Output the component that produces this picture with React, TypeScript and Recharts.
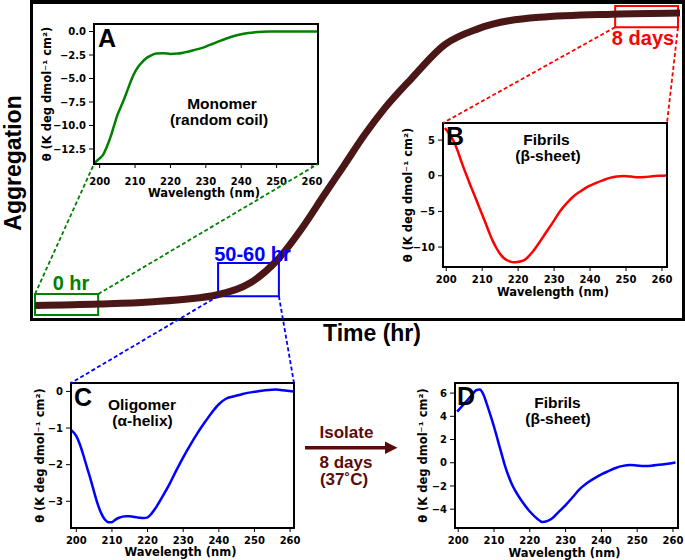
import { LineChart, Line, XAxis, YAxis, ReferenceArea } from "recharts";

// main aggregation curve (time in hours, aggregation in %)
const TIME_HR = [0, 19, 34, 54, 64, 72, 80, 86, 92, 98, 104, 112, 122, 132, 150, 172, 192];
const AGGREGATION = [0, 0.5, 1.2, 3.6, 7.7, 15.5, 27.5, 38, 48.3, 58.7, 67.9, 78.2, 90, 95.5, 99.4, 100.5, 100.9];

// CD spectra (wavelength nm, theta)
const A_NM = [198.5, 200, 201, 202, 203, 204, 205, 206, 207, 208, 209, 210, 211, 212, 213, 214, 215, 216, 218, 220, 222, 224, 226, 228, 230, 232, 234, 236, 238, 240, 242, 244, 246, 248, 250, 255, 261.5];
const A_THETA = [-14.0, -13.5, -13.1, -12.3, -11.3, -10.1, -8.9, -8.0, -7.1, -6.1, -5.1, -4.3, -3.7, -3.25, -2.9, -2.65, -2.45, -2.35, -2.3, -2.38, -2.35, -2.22, -2.05, -1.85, -1.6, -1.3, -1.0, -0.72, -0.47, -0.3, -0.16, -0.07, -0.02, 0, 0, 0, 0];

const B_NM = [199.6, 200.1, 201.1, 202.1, 203.1, 204, 205, 206, 207, 208, 209, 209.95, 210.9, 211.9, 212.9, 213.9, 214.9, 215.9, 216.9, 217.8, 218.8, 219.8, 220.8, 221.8, 223.8, 225.7, 227.7, 229.7, 231.6, 233.6, 235.6, 237.6, 239.5, 241.5, 243.5, 245.5, 247.4, 249.4, 251.4, 253.4, 255.3, 257.3, 259.3, 261.3];
const B_THETA = [6.7, 6.4, 5.7, 4.8, 3.6, 2.3, 0.9, -0.4, -1.7, -2.9, -4.2, -5.4, -6.6, -7.9, -9.1, -10.1, -10.9, -11.5, -11.85, -12.05, -12.15, -12.1, -12.0, -11.8, -10.8, -9.5, -8.0, -6.5, -5.0, -3.8, -2.8, -2.1, -1.5, -1.05, -0.65, -0.3, -0.1, -0.05, -0.12, -0.22, -0.18, -0.07, 0, 0.05];

const C_NM = [198.5, 200, 201, 202, 203, 204, 205, 206, 207, 208, 209, 210, 211, 212, 213, 214, 215, 216, 217, 218, 219, 220, 221, 222, 224, 226, 228, 230, 232, 234, 236, 238, 240, 242, 244, 246, 248, 250, 252, 254, 256, 258, 261];
const C_THETA = [-1.05, -1.22, -1.45, -1.75, -2.08, -2.4, -2.75, -3.08, -3.33, -3.5, -3.57, -3.57, -3.5, -3.45, -3.42, -3.41, -3.41, -3.42, -3.44, -3.45, -3.46, -3.44, -3.35, -3.22, -2.9, -2.56, -2.17, -1.8, -1.46, -1.14, -0.85, -0.58, -0.35, -0.2, -0.14, -0.09, -0.04, -0.01, 0.02, 0.04, 0.05, 0.03, 0];

const D_NM = [199.7, 201, 202, 203, 204, 205, 206, 207, 208, 209, 210, 211, 212, 213, 214, 215, 216, 217, 218, 220, 222, 223.5, 225, 226, 228, 230, 232, 234, 236, 238, 240, 242, 244, 246, 248, 250, 252, 254, 256, 258, 260.7];
const D_THETA = [4.4, 4.85, 5.2, 5.55, 5.9, 6.25, 6.3, 5.9, 5.05, 4.1, 3.1, 2.0, 0.9, -0.2, -1.1, -1.85, -2.45, -2.95, -3.4, -4.2, -4.8, -5.1, -5.0, -4.85, -4.25, -3.65, -2.95, -2.25, -1.75, -1.35, -1.0, -0.72, -0.45, -0.27, -0.2, -0.24, -0.27, -0.25, -0.18, -0.1, 0.03];

const WAVE_TICKS = [200, 210, 220, 230, 240, 250, 260];
const A_TICKS = [0, -2.5, -5, -7.5, -10, -12.5];
const B_TICKS = [5, 0, -5, -10];
const C_TICKS = [0, -1, -2, -3];
const D_TICKS = [6, 4, 2, 0, -2, -4];

// main plot geometry
const MAIN = { left: 35, top: 4, width: 645, height: 313, t: [0, 192], v: [-4, 104] };
const px = (t: number) => MAIN.left + ((t - MAIN.t[0]) / (MAIN.t[1] - MAIN.t[0])) * MAIN.width;
const py = (v: number) => MAIN.top + ((MAIN.v[1] - v) / (MAIN.v[1] - MAIN.v[0])) * MAIN.height;

const BOX_START = { t: [0, 18.8], v: [-3.3, 3.9] };
const BOX_OLIGO = { t: [54.5, 72.6], v: [3.2, 14.6] };
const BOX_FIBRIL = { t: [172.7, 191.4], v: [96, 103.3] };

type Rect = { left: number; top: number; width: number; height: number };
const A_RECT: Rect = { left: 94, top: 24, width: 224, height: 140 };
const B_RECT: Rect = { left: 443, top: 123, width: 224, height: 144 };
const C_RECT: Rect = { left: 71, top: 383, width: 223, height: 145 };
const D_RECT: Rect = { left: 455, top: 383, width: 223, height: 145 };

const AX_FONT = "DejaVu Sans, sans-serif";
const TXT_FONT = "Liberation Sans, Arial, sans-serif";
const MAROON = "#4b1616";
const ARROW = "#5a0b0b";

const fmt = (dec: number) => (v: number) =>
  v < 0 ? "\u2212" + Math.abs(v).toFixed(dec) : v.toFixed(dec);

const Y_W = 50;
const X_H = 40;
const R_PAD = 16;

interface InsetProps {
  rect: Rect;
  nm: number[];
  theta: number[];
  color: string;
  xDomain: [number, number];
  yDomain: [number, number];
  yTicks: number[];
  dec: number;
  xGap: number;
}

function Inset({ rect, nm, theta, color, xDomain, yDomain, yTicks, dec, xGap }: InsetProps) {
  const data = nm.map((w, i) => ({ w, theta: theta[i] }));
  const W = rect.width + Y_W + R_PAD;
  const H = rect.height + X_H;
  const tick = { fontSize: 10, fontWeight: "bold", fill: "#000", fontFamily: AX_FONT };
  return (
    <div style={{ position: "absolute", left: rect.left - Y_W, top: rect.top, width: W, height: H }}>
      <LineChart width={W} height={H} data={data} margin={{ top: 0, right: R_PAD, bottom: 0, left: 0 }}>
        <XAxis
          dataKey="w"
          type="number"
          domain={xDomain}
          ticks={WAVE_TICKS}
          interval={0}
          allowDataOverflow
          axisLine={false}
          tickLine={{ stroke: "#000", strokeWidth: 1 }}
          tickSize={4}
          tickMargin={xGap}
          height={X_H}
          tick={tick}
        />
        <YAxis
          type="number"
          domain={yDomain}
          ticks={yTicks}
          interval={0}
          allowDataOverflow
          axisLine={false}
          tickLine={{ stroke: "#000", strokeWidth: 1 }}
          tickSize={5}
          tickMargin={3}
          width={Y_W}
          tick={tick}
          tickFormatter={fmt(dec)}
        />
        <Line type="monotone" dataKey="theta" stroke={color} strokeWidth={2.5} dot={false} isAnimationActive={false} />
      </LineChart>
      <div
        style={{
          position: "absolute",
          left: Y_W - 1,
          top: -1,
          width: rect.width + 2,
          height: rect.height + 2,
          border: "2px solid #000",
          boxSizing: "border-box",
        }}
      />
    </div>
  );
}

function Connector({ x1, y1, x2, y2, color }: { x1: number; y1: number; x2: number; y2: number; color: string }) {
  return <line x1={x1} y1={y1} x2={x2} y2={y2} stroke={color} strokeWidth={1.8} strokeDasharray="4 2.5" />;
}

export default function App() {
  const mainData = TIME_HR.map((t, i) => ({ t, agg: AGGREGATION[i] }));
  const bold = { fontFamily: TXT_FONT, fontWeight: "bold" as const };

  return (
    <div style={{ position: "absolute", left: 0, top: 0, width: 685, height: 560, background: "#fff", overflow: "hidden" }}>
      <div
        style={{
          position: "absolute",
          left: 30,
          top: 0,
          width: 655,
          height: 321,
          border: "3px solid #000",
          borderTopWidth: 4,
          boxSizing: "border-box",
        }}
      />
      <div style={{ position: "absolute", left: 0, top: 0 }}>
        <LineChart
          width={685}
          height={330}
          data={mainData}
          margin={{ top: MAIN.top, left: MAIN.left, right: 685 - MAIN.left - MAIN.width, bottom: 330 - MAIN.top - MAIN.height }}
        >
          <XAxis dataKey="t" type="number" domain={MAIN.t} hide allowDataOverflow />
          <YAxis type="number" domain={MAIN.v} hide allowDataOverflow />
          <Line type="monotone" dataKey="agg" stroke={MAROON} strokeWidth={7} dot={false} isAnimationActive={false} />
          <ReferenceArea x1={BOX_START.t[0]} x2={BOX_START.t[1]} y1={BOX_START.v[0]} y2={BOX_START.v[1]} fill="none" fillOpacity={0} stroke="green" strokeWidth={2} ifOverflow="visible" />
          <ReferenceArea x1={BOX_OLIGO.t[0]} x2={BOX_OLIGO.t[1]} y1={BOX_OLIGO.v[0]} y2={BOX_OLIGO.v[1]} fill="none" fillOpacity={0} stroke="#0000ff" strokeWidth={2} ifOverflow="visible" />
          <ReferenceArea x1={BOX_FIBRIL.t[0]} x2={BOX_FIBRIL.t[1]} y1={BOX_FIBRIL.v[0]} y2={BOX_FIBRIL.v[1]} fill="none" fillOpacity={0} stroke="#ff0000" strokeWidth={2} ifOverflow="visible" />
        </LineChart>
      </div>

      <Inset rect={A_RECT} nm={A_NM} theta={A_THETA} color="green" xDomain={[198.4, 261.7]} yDomain={[-14.1, 0.8]} yTicks={A_TICKS} dec={1} xGap={10} />
      <Inset rect={B_RECT} nm={B_NM} theta={B_THETA} color="#ff0000" xDomain={[199.1, 261.4]} yDomain={[-12.8, 7.4]} yTicks={B_TICKS} dec={0} xGap={4.5} />
      <Inset rect={C_RECT} nm={C_NM} theta={C_THETA} color="#0000ff" xDomain={[198.5, 261.1]} yDomain={[-3.73, 0.23]} yTicks={C_TICKS} dec={0} xGap={5} />
      <Inset rect={D_RECT} nm={D_NM} theta={D_THETA} color="#0000ff" xDomain={[199.1, 261.4]} yDomain={[-5.62, 6.87]} yTicks={D_TICKS} dec={0} xGap={5} />

      <svg width={685} height={560} style={{ position: "absolute", left: 0, top: 0, pointerEvents: "none" }}>
        {/* connectors from the highlighted windows to their spectra */}
        <Connector x1={px(BOX_START.t[0])} y1={py(BOX_START.v[1])} x2={A_RECT.left} y2={A_RECT.top + A_RECT.height} color="green" />
        <Connector x1={px(BOX_START.t[1])} y1={py(BOX_START.v[1])} x2={A_RECT.left + A_RECT.width} y2={A_RECT.top + A_RECT.height} color="green" />
        <Connector x1={px(BOX_FIBRIL.t[0])} y1={py(BOX_FIBRIL.v[0])} x2={B_RECT.left} y2={B_RECT.top} color="#ff0000" />
        <Connector x1={px(BOX_FIBRIL.t[1])} y1={py(BOX_FIBRIL.v[0])} x2={B_RECT.left + B_RECT.width} y2={B_RECT.top} color="#ff0000" />
        <Connector x1={px(BOX_OLIGO.t[0])} y1={py(BOX_OLIGO.v[0])} x2={C_RECT.left} y2={C_RECT.top} color="#0000ff" />
        <Connector x1={px(BOX_OLIGO.t[1])} y1={py(BOX_OLIGO.v[0])} x2={C_RECT.left + C_RECT.width} y2={C_RECT.top} color="#0000ff" />

        {/* window labels */}
        <text x={71} y={290} textAnchor="middle" fontSize={20} fill="green" {...bold}>0 hr</text>
        <text x={252.5} y={261} textAnchor="middle" fontSize={20} fill="#0000ff" {...bold}>50-60 hr</text>
        <text x={643} y={44.5} textAnchor="middle" fontSize={20} fill="#ff0000" {...bold}>8 days</text>

        {/* main axis titles */}
        <text transform="translate(21,163) rotate(-90)" textAnchor="middle" fontSize={23} fill="#000" {...bold}>Aggregation</text>
        <text x={372} y={341} textAnchor="middle" fontSize={23} fill="#000" {...bold}>Time (hr)</text>

        {/* inset axis titles */}
        {[
          { r: A_RECT, yl: 51, xl: 33 },
          { r: B_RECT, yl: 412, xl: 29 },
          { r: C_RECT, yl: 44, xl: 28 },
          { r: D_RECT, yl: 427, xl: 29 },
        ].map(({ r, yl, xl }, i) => (
          <g key={i}>
            <text
              transform={`translate(${yl},${r.top + r.height / 2}) rotate(-90)`}
              textAnchor="middle"
              fontSize={11.5}
              fontFamily={AX_FONT}
              fontWeight="bold"
              fill="#000"
            >
              θ (K deg dmol⁻¹ cm²)
            </text>
            <text x={r.left + r.width / 2 - 2} y={r.top + r.height + xl} textAnchor="middle" fontSize={11.5} fontFamily={AX_FONT} fontWeight="bold" fill="#000">
              Wavelength (nm)
            </text>
          </g>
        ))}

        {/* panel letters */}
        <text x={A_RECT.left + 4} y={A_RECT.top + 23} fontSize={25} fill="#000" {...bold}>A</text>
        <text x={B_RECT.left + 3} y={B_RECT.top + 22} fontSize={25} fill="#000" {...bold}>B</text>
        <text x={C_RECT.left + 3} y={C_RECT.top + 23} fontSize={25} fill="#000" {...bold}>C</text>
        <text x={D_RECT.left + 2} y={D_RECT.top + 22} fontSize={25} fill="#000" {...bold}>D</text>

        {/* panel titles */}
        <text x={222} y={109} textAnchor="middle" fontSize={15.5} fill="#000" {...bold}>Monomer</text>
        <text x={219} y={124.5} textAnchor="middle" fontSize={15.5} fill="#000" {...bold}>(random coil)</text>
        <text x={546.5} y={145} textAnchor="middle" fontSize={15.5} fill="#000" {...bold}>Fibrils</text>
        <text x={548} y={161} textAnchor="middle" fontSize={15.5} fill="#000" {...bold}>(β-sheet)</text>
        <text x={142} y={410} textAnchor="middle" fontSize={15.5} fill="#000" {...bold}>Oligomer</text>
        <text x={142.5} y={425.5} textAnchor="middle" fontSize={15.5} fill="#000" {...bold}>(α-helix)</text>
        <text x={557.5} y={408} textAnchor="middle" fontSize={15.5} fill="#000" {...bold}>Fibrils</text>
        <text x={558} y={423.5} textAnchor="middle" fontSize={15.5} fill="#000" {...bold}>(β-sheet)</text>

        {/* isolate arrow */}
        <text x={346.5} y={438} textAnchor="middle" fontSize={17} fill={ARROW} {...bold}>Isolate</text>
        <line x1={305} y1={447.7} x2={387} y2={447.7} stroke={ARROW} strokeWidth={3.5} />
        <polygon points="385,441.5 397.5,447.7 385,453.9" fill={ARROW} />
        <text x={346} y={467.5} textAnchor="middle" fontSize={17} fill={ARROW} {...bold}>8 days</text>
        <text x={344} y={485} textAnchor="middle" fontSize={17} fill={ARROW} {...bold}>(37˚C)</text>
      </svg>
    </div>
  );
}
